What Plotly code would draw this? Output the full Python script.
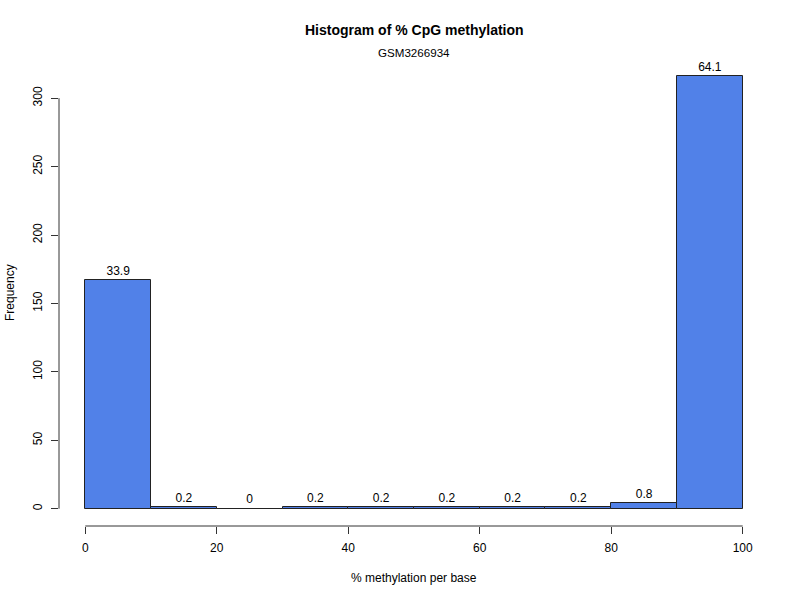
import plotly.graph_objects as go

bin_left = [0, 10, 20, 30, 40, 50, 60, 70, 80, 90]
bin_width = 10
counts = [167, 1, 0, 1, 1, 1, 1, 1, 4, 316]
pct_labels = ["33.9", "0.2", "0", "0.2", "0.2", "0.2", "0.2", "0.2", "0.8", "64.1"]
x_ticks = [0, 20, 40, 60, 80, 100]
y_ticks = [0, 50, 100, 150, 200, 250, 300]

mids = [b + bin_width / 2 for b in bin_left]
FONT = "Liberation Sans, Arial, sans-serif"

fig = go.Figure()
fig.add_trace(go.Bar(
    x=mids, y=counts, width=[bin_width] * len(counts),
    marker=dict(color="#5181E8", line=dict(color="#222222", width=1)),
    hoverinfo="skip",
))
fig.add_trace(go.Scatter(
    x=mids, y=counts, mode="markers+text", text=pct_labels,
    textposition="top center", cliponaxis=False,
    marker=dict(size=2, opacity=0),
    textfont=dict(family=FONT, size=12, color="black"),
    hoverinfo="skip",
))

xmin, xmax = 0, 100
ymax = max(counts)
xr = [xmin - 0.04 * (xmax - xmin), xmax + 0.04 * (xmax - xmin)]
yr = [-0.04 * ymax, ymax * 1.04]

fig.update_layout(
    width=800, height=600,
    margin=dict(l=59, r=31, t=59, b=74),
    plot_bgcolor="white", paper_bgcolor="white",
    showlegend=False, bargap=0,
    font=dict(family=FONT, size=12, color="black"),
    xaxis=dict(range=xr, tickvals=x_ticks, ticks="outside", ticklen=7,
               tickcolor="#333333", showgrid=False, zeroline=False,
               showline=False, tickfont=dict(size=12), ticklabelstandoff=4),
    yaxis=dict(range=yr, tickvals=y_ticks, ticks="outside", ticklen=7,
               tickcolor="#333333", showgrid=False, zeroline=False,
               showline=False, tickangle=-90, tickfont=dict(size=12),
               ticklabelstandoff=4),
    shapes=[
        dict(type="line", xref="x", yref="paper", x0=x_ticks[0], x1=x_ticks[-1],
             y0=0, y1=0, line=dict(color="#333333", width=1)),
        dict(type="line", xref="paper", yref="y", x0=0, x1=0,
             y0=y_ticks[0], y1=y_ticks[-1], line=dict(color="#333333", width=1)),
    ],
)

H, T, B = 600, 59, 74
ph = H - T - B
def ypix(py):
    return (H - B - py) / ph

pw = 800 - 59 - 31
def xpix(px):
    return (px - 59) / pw

fig.add_annotation(text="<b>Histogram of % CpG methylation</b>", xref="paper", yref="paper",
                   x=xpix(414), y=ypix(30), showarrow=False, font=dict(size=14),
                   xanchor="center", yanchor="middle")
fig.add_annotation(text="GSM3266934", xref="paper", yref="paper",
                   x=xpix(414), y=ypix(52), showarrow=False, font=dict(size=11.6),
                   xanchor="center", yanchor="middle")
fig.add_annotation(text="% methylation per base", xref="paper", yref="paper",
                   x=xpix(414), y=ypix(578), showarrow=False, font=dict(size=12),
                   xanchor="center", yanchor="middle")
fig.add_annotation(text="Frequency", xref="paper", yref="paper",
                   x=xpix(10), y=ypix(292), showarrow=False, font=dict(size=12),
                   textangle=-90, xanchor="center", yanchor="middle")

fig.write_html("out.html")
